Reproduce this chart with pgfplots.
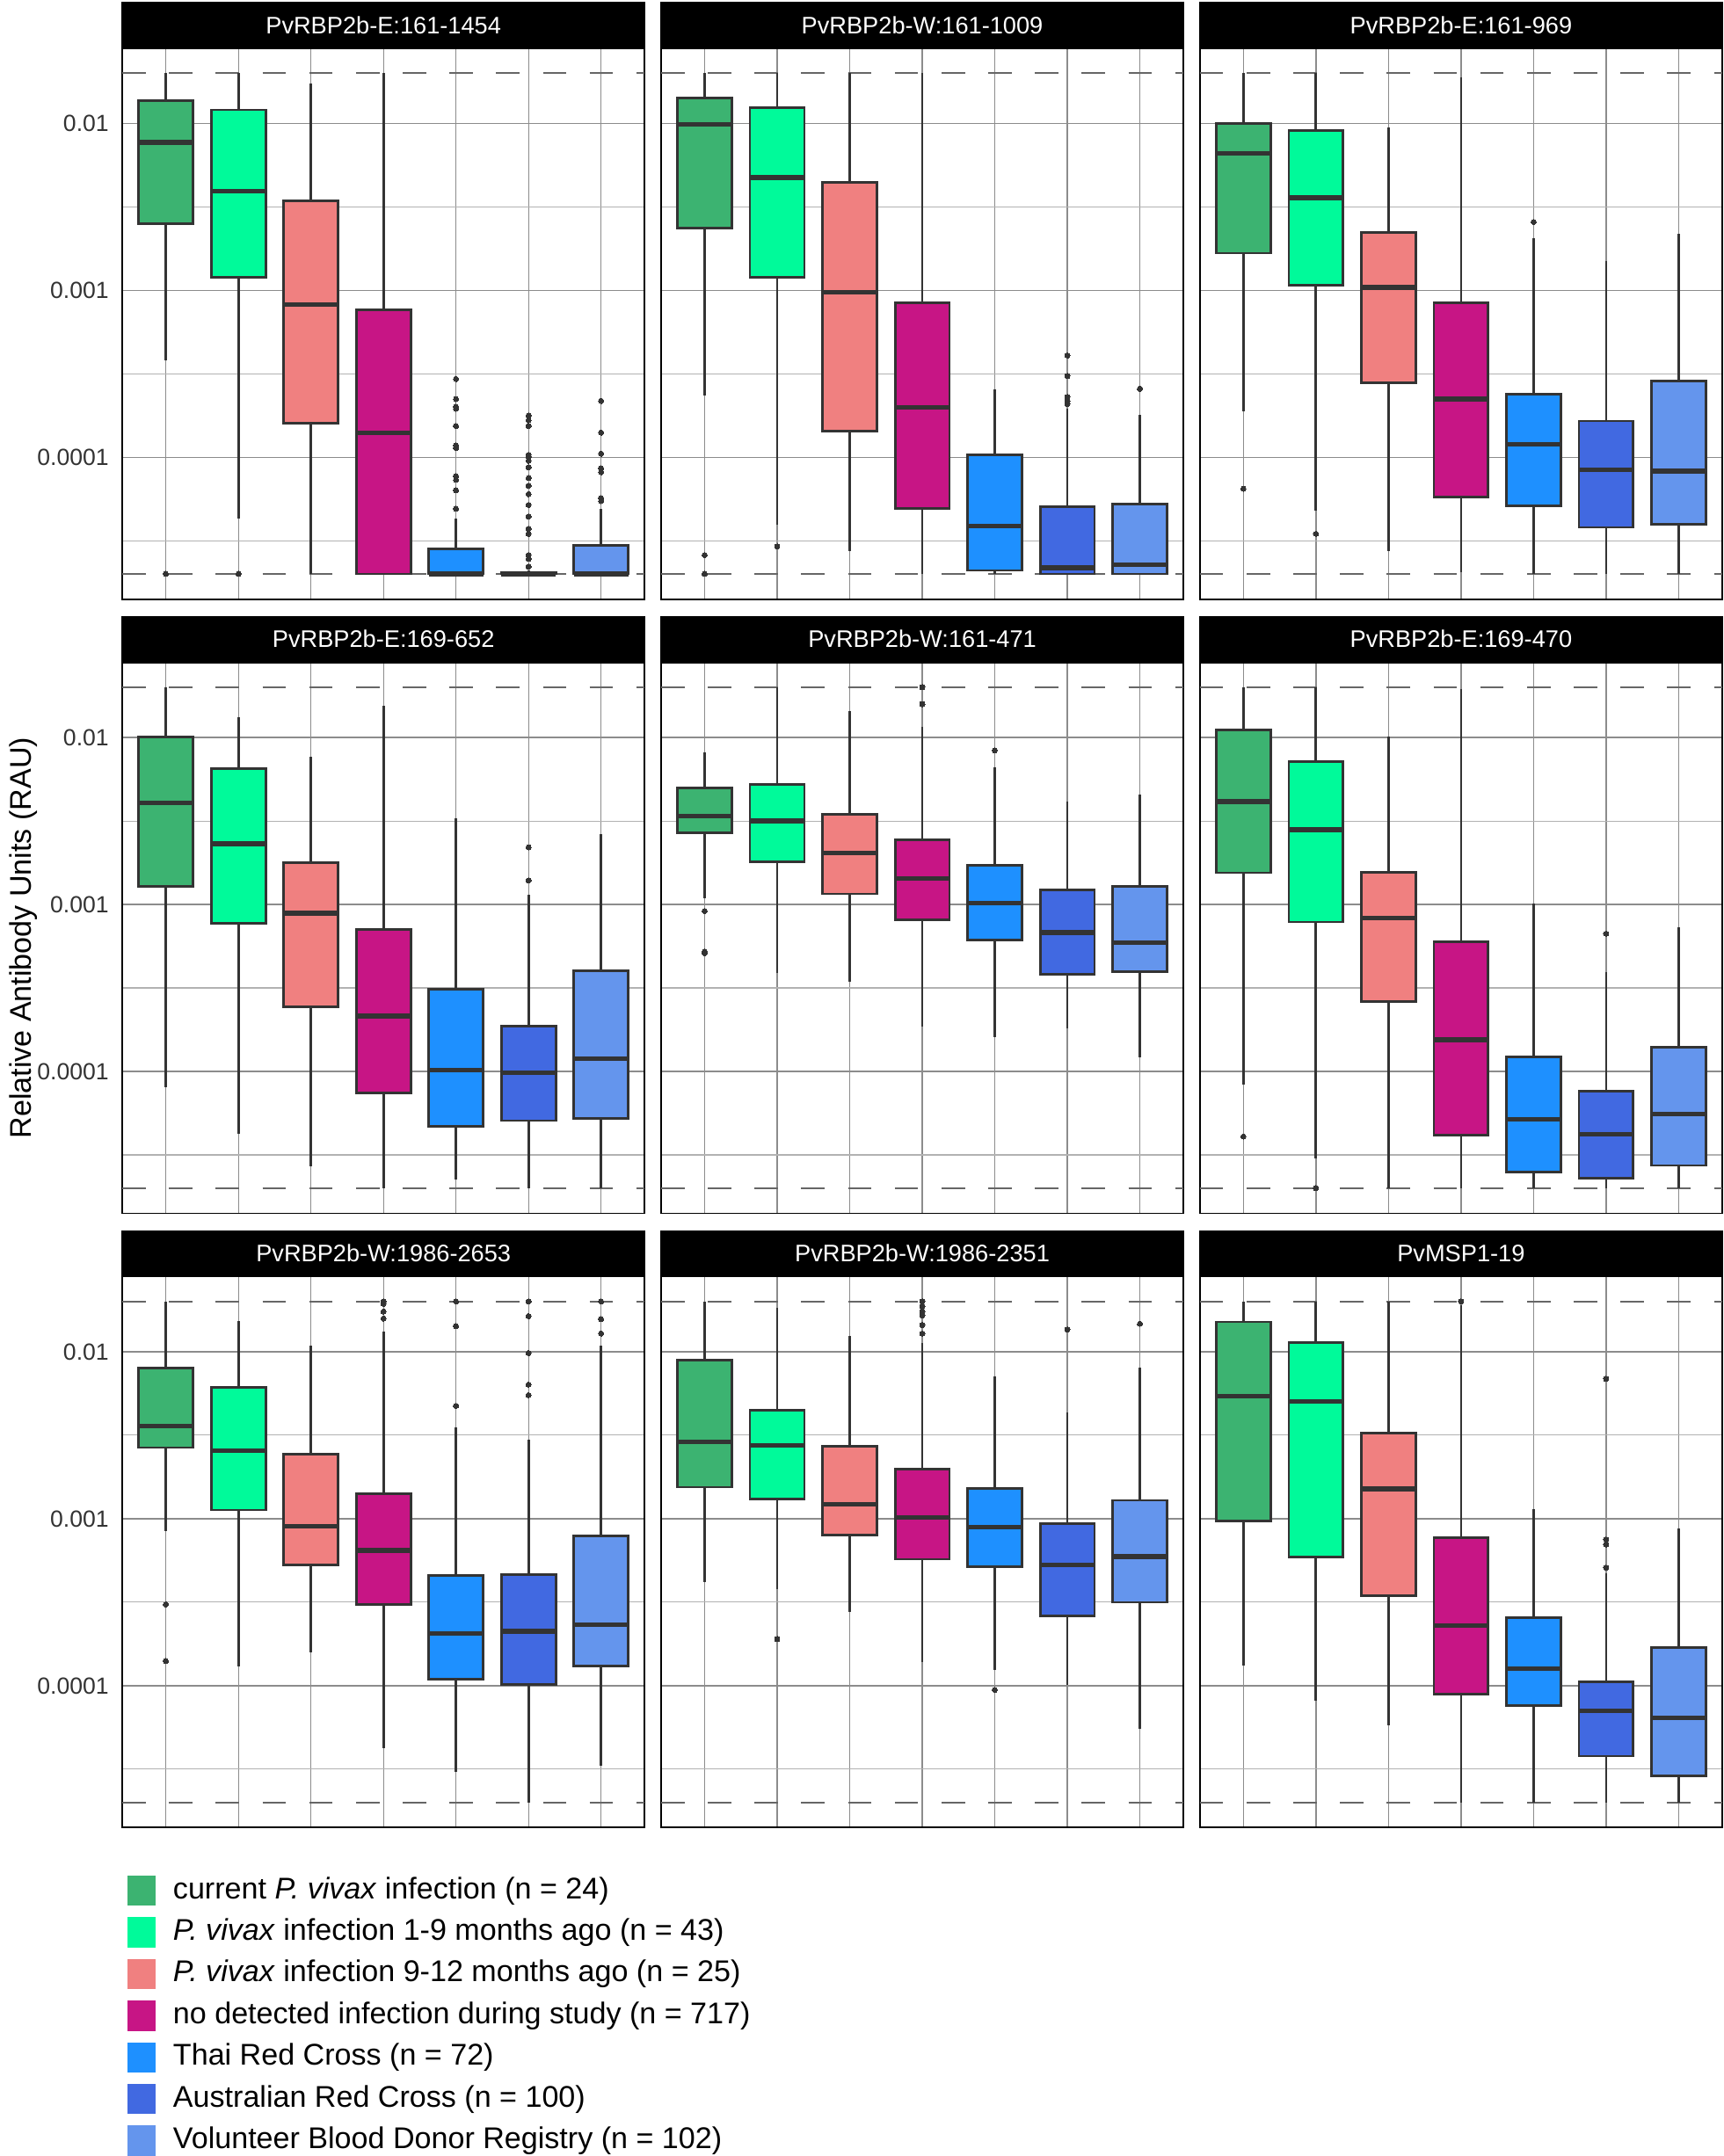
\documentclass[border=0pt]{standalone}
\usepackage{fontspec}
\setmainfont{Liberation Sans}
\usepackage{pgfplots}
\pgfplotsset{compat=1.18}
\usepgfplotslibrary{groupplots,statistics}

\definecolor{cA}{RGB}{60,179,113}
\definecolor{cB}{RGB}{0,250,154}
\definecolor{cC}{RGB}{240,128,128}
\definecolor{cD}{RGB}{199,21,133}
\definecolor{cE}{RGB}{30,144,255}
\definecolor{cF}{RGB}{65,105,225}
\definecolor{cG}{RGB}{100,149,237}
\definecolor{edge}{RGB}{51,51,51}

% all values are log10(RAU); the dashed limits are 0.02 and 2e-5
\pgfplotsset{
  rau/.style={
    xmin=0.4, xmax=7.6, ymin=-4.85, ymax=-1.55,
    width=190pt, height=200.5pt, scale only axis,
    xtick={1,...,7}, xticklabels={},
    ytick={-4,-3,-2}, yticklabels={0.0001,0.001,0.01},
    minor ytick={-4.5,-3.5,-2.5},
    xmajorgrids, ymajorgrids, yminorgrids,
    major grid style={black!45, line width=0.4pt},
    minor grid style={black!30, line width=0.35pt},
    major tick length=0pt, minor tick length=0pt,
    axis line style={black, line width=0.6pt},
    tick label style={font=\fontsize{8.5}{10}\selectfont, text=black!80},
    yticklabel style={xshift=-1.4pt},
    every axis title shift=0pt,
    title style={at={(0.5,1)}, anchor=south, yshift=0pt, fill=black, text=white,
      minimum width=190.6pt, minimum height=16.5pt, inner sep=0pt,
      font=\fontsize{8.7}{10}\selectfont},
  },
  bp/.style={draw=edge, line width=0.9pt, mark=*, mark size=0.95pt,
    mark options={fill=edge, draw=edge, line width=0pt},
    boxplot/draw direction=y,
    boxplot/whisker extend=0, boxplot/box extend=0.75,
    boxplot/every median/.style={line width=1.7pt}},
  dl/.style={black!60, line width=0.7pt, dash pattern=on 8.5pt off 8.5pt},
}

% draw position, colour, lower whisker, Q1, median, Q3, upper whisker, outliers
\newcommand{\bx}[8]{\addplot[bp, fill=#2, boxplot prepared={draw position=#1,
  lower whisker=#3, lower quartile=#4, median=#5, upper quartile=#6,
  upper whisker=#7}] coordinates {#8};}
\newcommand{\bounds}{%
  \addplot[dl] coordinates {(0.4,-1.699) (7.6,-1.699)};
  \addplot[dl] coordinates {(0.4,-4.699) (7.6,-4.699)};}

\begin{document}
\begin{tikzpicture}
\begin{groupplot}[
  group style={group size=3 by 3, horizontal sep=6pt, vertical sep=23pt,
    y descriptions at=edge left},
  rau]

\nextgroupplot[title={PvRBP2b-E:161-1454}]
\bounds
\bx{1}{cA}{-3.421}{-2.603}{-2.114}{-1.865}{-1.699}{(0,-4.699)}
\bx{2}{cB}{-4.367}{-2.921}{-2.407}{-1.920}{-1.699}{(0,-4.699)}
\bx{3}{cC}{-4.699}{-3.797}{-3.087}{-2.465}{-1.761}{}
\bx{4}{cD}{-4.699}{-4.699}{-3.855}{-3.117}{-1.699}{}
\bx{5}{cE}{-4.699}{-4.699}{-4.699}{-4.549}{-4.367}{(0,-3.532) (0,-3.652) (0,-3.698) (0,-3.710) (0,-3.813) (0,-3.929) (0,-3.945) (0,-4.113) (0,-4.136) (0,-4.198) (0,-4.309)}
\bx{6}{cF}{-4.699}{-4.699}{-4.699}{-4.690}{-4.680}{(0,-3.751) (0,-3.779) (0,-3.813) (0,-3.986) (0,-3.998) (0,-4.021) (0,-4.060) (0,-4.125) (0,-4.171) (0,-4.221) (0,-4.286) (0,-4.355) (0,-4.429) (0,-4.459) (0,-4.586) (0,-4.609) (0,-4.655)}
\bx{7}{cG}{-4.699}{-4.699}{-4.699}{-4.528}{-4.309}{(0,-3.663) (0,-3.853) (0,-3.979) (0,-4.067) (0,-4.090) (0,-4.245) (0,-4.263)}

\nextgroupplot[title={PvRBP2b-W:161-1009}]
\bounds
\bx{1}{cA}{-3.629}{-2.626}{-2.008}{-1.847}{-1.699}{(0,-4.586) (0,-4.699)}
\bx{2}{cB}{-4.406}{-2.921}{-2.326}{-1.907}{-1.699}{(0,-4.535)}
\bx{3}{cC}{-4.563}{-3.843}{-3.013}{-2.356}{-1.699}{}
\bx{4}{cD}{-4.699}{-4.309}{-3.703}{-3.076}{-1.699}{}
\bx{5}{cE}{-4.699}{-4.678}{-4.413}{-3.986}{-3.594}{}
\bx{6}{cF}{-4.699}{-4.699}{-4.662}{-4.298}{-3.710}{(0,-3.391) (0,-3.514) (0,-3.640) (0,-3.663) (0,-3.682)}
\bx{7}{cG}{-4.699}{-4.699}{-4.643}{-4.281}{-3.744}{(0,-3.590)}

\nextgroupplot[title={PvRBP2b-E:161-969}]
\bounds
\bx{1}{cA}{-3.728}{-2.778}{-2.181}{-2.003}{-1.699}{(0,-4.189)}
\bx{2}{cB}{-4.321}{-2.972}{-2.446}{-2.045}{-1.699}{(0,-4.459)}
\bx{3}{cC}{-4.563}{-3.553}{-2.983}{-2.656}{-2.026}{}
\bx{4}{cD}{-4.690}{-4.240}{-3.652}{-3.076}{-1.727}{}
\bx{5}{cE}{-4.699}{-4.291}{-3.924}{-3.622}{-2.690}{(0,-2.591)}
\bx{6}{cF}{-4.699}{-4.420}{-4.074}{-3.783}{-2.824}{}
\bx{7}{cG}{-4.699}{-4.401}{-4.083}{-3.544}{-2.661}{}

\nextgroupplot[title={PvRBP2b-E:169-652},
  ylabel={Relative Antibody Units (RAU)}, ylabel shift=-7pt,
  ylabel style={font=\fontsize{10.9}{13}\selectfont}]
\bounds
\bx{1}{cA}{-4.095}{-2.891}{-2.393}{-1.996}{-1.699}{}
\bx{2}{cB}{-4.376}{-3.115}{-2.637}{-2.188}{-1.881}{}
\bx{3}{cC}{-4.567}{-3.615}{-3.052}{-2.748}{-2.116}{}
\bx{4}{cD}{-4.699}{-4.129}{-3.668}{-3.149}{-1.812}{}
\bx{5}{cE}{-4.648}{-4.330}{-3.991}{-3.507}{-2.485}{}
\bx{6}{cF}{-4.699}{-4.295}{-4.009}{-3.730}{-2.942}{(0,-2.658) (0,-2.856)}
\bx{7}{cG}{-4.699}{-4.281}{-3.922}{-3.398}{-2.580}{}

\nextgroupplot[title={PvRBP2b-W:161-471}]
\bounds
\bx{1}{cA}{-2.965}{-2.569}{-2.469}{-2.301}{-2.089}{(0,-3.039) (0,-3.281) (0,-3.292)}
\bx{2}{cB}{-3.410}{-2.746}{-2.499}{-2.282}{-1.699}{}
\bx{3}{cC}{-3.465}{-2.937}{-2.693}{-2.462}{-1.842}{}
\bx{4}{cD}{-3.730}{-3.092}{-2.845}{-2.614}{-1.939}{(0,-1.699) (0,-1.800)}
\bx{5}{cE}{-3.795}{-3.214}{-2.993}{-2.764}{-2.181}{(0,-2.077)}
\bx{6}{cF}{-3.742}{-3.419}{-3.168}{-2.912}{-2.384}{}
\bx{7}{cG}{-3.915}{-3.403}{-3.230}{-2.891}{-2.342}{}

\nextgroupplot[title={PvRBP2b-E:169-470}]
\bounds
\bx{1}{cA}{-4.079}{-2.810}{-2.384}{-1.957}{-1.699}{(0,-4.390)}
\bx{2}{cB}{-4.521}{-3.105}{-2.552}{-2.146}{-1.699}{(0,-4.699)}
\bx{3}{cC}{-4.699}{-3.581}{-3.080}{-2.808}{-1.996}{}
\bx{4}{cD}{-4.699}{-4.383}{-3.811}{-3.225}{-1.708}{}
\bx{5}{cE}{-4.699}{-4.602}{-4.286}{-3.915}{-2.993}{}
\bx{6}{cF}{-4.699}{-4.641}{-4.376}{-4.118}{-3.403}{(0,-3.175)}
\bx{7}{cG}{-4.699}{-4.563}{-4.256}{-3.853}{-3.138}{}

\nextgroupplot[title={PvRBP2b-W:1986-2653},
  legend style={at={(0,0)}, anchor=north west, xshift=2pt, yshift=-17.5pt,
    draw=none, fill=none, inner sep=0pt, outer sep=0pt, row sep=4.15pt,
    font=\fontsize{10.9}{13}\selectfont,
    nodes={inner sep=0pt, text height=8pt, text depth=2.3pt}},
  legend cell align=left,
  legend image code/.code={\fill[#1] (0pt,-5.5pt) rectangle (10pt,5.5pt);
    \path (16.5pt,0pt);}]
\addlegendimage{fill=cA, draw=none}
\addlegendentry{current \textit{P. vivax} infection (n = 24)}
\addlegendimage{fill=cB, draw=none}
\addlegendentry{\textit{P. vivax} infection 1-9 months ago (n = 43)}
\addlegendimage{fill=cC, draw=none}
\addlegendentry{\textit{P. vivax} infection 9-12 months ago (n = 25)}
\addlegendimage{fill=cD, draw=none}
\addlegendentry{no detected infection during study (n = 717)}
\addlegendimage{fill=cE, draw=none}
\addlegendentry{Thai Red Cross (n = 72)}
\addlegendimage{fill=cF, draw=none}
\addlegendentry{Australian Red Cross (n = 100)}
\addlegendimage{fill=cG, draw=none}
\addlegendentry{Volunteer Blood Donor Registry (n = 102)}
\bounds
\bx{1}{cA}{-3.074}{-2.574}{-2.444}{-2.096}{-1.699}{(0,-3.513) (0,-3.852)}
\bx{2}{cB}{-3.887}{-2.948}{-2.594}{-2.214}{-1.817}{}
\bx{3}{cC}{-3.801}{-3.275}{-3.044}{-2.613}{-1.962}{}
\bx{4}{cD}{-4.372}{-3.513}{-3.190}{-2.851}{-1.881}{(0,-1.699) (0,-1.713) (0,-1.759) (0,-1.801)}
\bx{5}{cE}{-4.517}{-3.963}{-3.686}{-3.340}{-2.451}{(0,-1.699) (0,-1.847) (0,-2.324)}
\bx{6}{cF}{-4.699}{-3.991}{-3.675}{-3.335}{-2.525}{(0,-1.699) (0,-1.787) (0,-2.008) (0,-2.197) (0,-2.260)}
\bx{7}{cG}{-4.478}{-3.882}{-3.635}{-3.104}{-1.962}{(0,-1.699) (0,-1.805) (0,-1.891)}

\nextgroupplot[title={PvRBP2b-W:1986-2351}]
\bounds
\bx{1}{cA}{-3.379}{-2.811}{-2.539}{-2.052}{-1.699}{}
\bx{2}{cB}{-3.421}{-2.881}{-2.562}{-2.352}{-1.736}{(0,-3.721)}
\bx{3}{cC}{-3.559}{-3.098}{-2.913}{-2.567}{-1.904}{}
\bx{4}{cD}{-3.859}{-3.243}{-2.994}{-2.705}{-1.948}{(0,-1.699) (0,-1.731) (0,-1.759) (0,-1.782) (0,-1.840) (0,-1.891)}
\bx{5}{cE}{-3.905}{-3.289}{-3.051}{-2.821}{-2.147}{(0,-4.025)}
\bx{6}{cF}{-3.993}{-3.582}{-3.278}{-3.028}{-2.366}{(0,-1.867)}
\bx{7}{cG}{-4.256}{-3.501}{-3.227}{-2.890}{-2.094}{(0,-1.833)}

\nextgroupplot[title={PvMSP1-19}]
\bounds
\bx{1}{cA}{-3.878}{-3.012}{-2.267}{-1.821}{-1.699}{}
\bx{2}{cB}{-4.090}{-3.231}{-2.297}{-1.944}{-1.699}{}
\bx{3}{cC}{-4.240}{-3.462}{-2.821}{-2.486}{-1.699}{}
\bx{4}{cD}{-4.699}{-4.051}{-3.640}{-3.114}{-1.724}{(0,-1.699)}
\bx{5}{cE}{-4.699}{-4.120}{-3.898}{-3.594}{-2.941}{}
\bx{6}{cF}{-4.699}{-4.422}{-4.152}{-3.975}{-3.328}{(0,-2.163) (0,-3.125) (0,-3.155) (0,-3.294)}
\bx{7}{cG}{-4.699}{-4.540}{-4.194}{-3.771}{-3.056}{}
\end{groupplot}
\pgfresetboundingbox
\path[use as bounding box] ([shift={(-44.5pt,17.5pt)}]group c1r1.north west)
  rectangle ([shift={(0.5pt,-119.5pt)}]group c3r3.south east);
\end{tikzpicture}
\end{document}
